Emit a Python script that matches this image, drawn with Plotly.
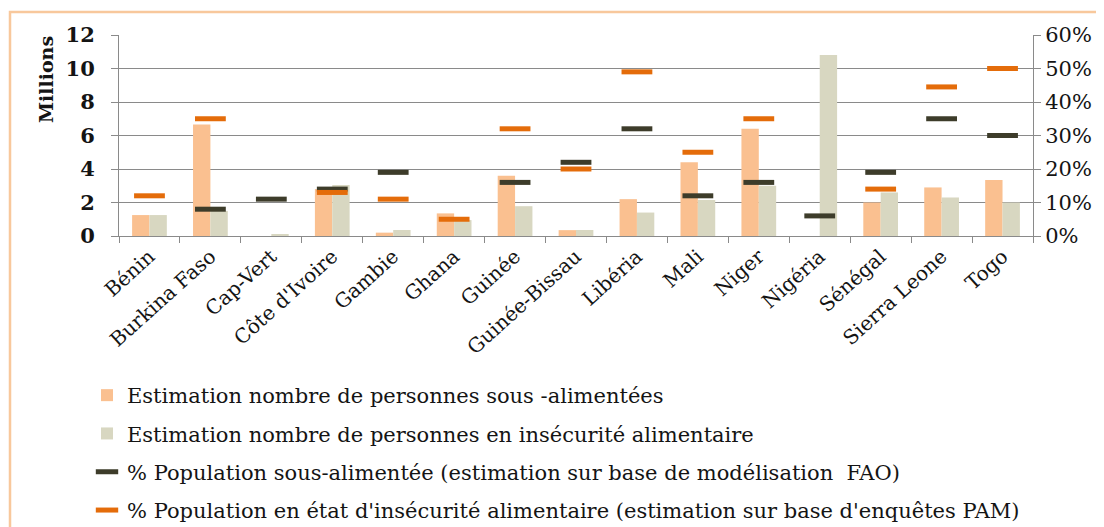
import plotly.graph_objects as go

countries = ["Bénin", "Burkina Faso", "Cap-Vert", "Côte d'Ivoire", "Gambie", "Ghana",
             "Guinée", "Guinée-Bissau", "Libéria", "Mali", "Niger", "Nigéria",
             "Sénégal", "Sierra Leone", "Togo"]
# millions
sous_alimentees = [1.25, 6.65, 0.0, 2.8, 0.2, 1.35, 3.6, 0.35, 2.2, 4.4, 6.4, 0.0, 2.0, 2.9, 3.35]
insecurite = [1.25, 1.5, 0.08, 3.05, 0.36, 0.95, 1.78, 0.36, 1.4, 2.15, 3.0, 10.8, 2.6, 2.3, 2.0]
# percent
pct_fao = [None, 8, 11, 14, 19, None, 16, 22, 32, 12, 16, 6, 19, 35, 30]
pct_pam = [12, 35, None, 13, 11, 5, 32, 20, 49, 25, 35, None, 14, 44.5, 50]

left_ticks = [0, 2, 4, 6, 8, 10, 12]
right_ticks = [0, 10, 20, 30, 40, 50, 60]
right_labels = ["0%", "10%", "20%", "30%", "40%", "50%", "60%"]

names = [
    "Estimation nombre de personnes sous -alimentées",
    "Estimation nombre de personnes en insécurité alimentaire",
    "% Population sous-alimentée (estimation sur base de modélisation  FAO)",
    "% Population en état d'insécurité alimentaire (estimation sur base d'enquêtes PAM)",
]

FONT = "DejaVu Serif"
GRID = "#8a8a8a"
TXT = "#141414"

fig = go.Figure()
fig.add_trace(go.Bar(x=countries, y=sous_alimentees, name=names[0],
                     marker=dict(color="#FAC090", line=dict(width=0)), legendgroup="a"))
fig.add_trace(go.Bar(x=countries, y=insecurite, name=names[1],
                     marker=dict(color="#D8D7C1", line=dict(width=0)), legendgroup="b"))
fig.add_trace(go.Scatter(x=countries, y=pct_fao, name=names[2], yaxis="y2", mode="markers",
                         marker=dict(symbol="line-ew", size=22,
                                     line=dict(width=5, color="#3D3C2A")),
                         legendgroup="c"))
fig.add_trace(go.Scatter(x=countries, y=pct_pam, name=names[3], yaxis="y2", mode="markers",
                         marker=dict(symbol="line-ew", size=22,
                                     line=dict(width=5, color="#E46C0A")),
                         legendgroup="d"))

# the page body adds an 8px offset; work in page coordinates and convert
OFF = 8
W, H = 1104, 527
plot_left, plot_right, plot_top, plot_bottom = 119, 1033, 35, 236
L = plot_left - OFF
T = plot_top - OFF
R = W - (plot_right - OFF)
B = H - (plot_bottom - OFF)
pw = plot_right - plot_left
ph = plot_bottom - plot_top

def px(x):
    return (x - plot_left) / pw

def py(y):
    return (plot_bottom - y) / ph

fig.update_layout(
    width=W, height=H,
    margin=dict(l=L, r=R, t=T, b=B, autoexpand=False),
    paper_bgcolor="white", plot_bgcolor="white",
    barmode="group", bargap=0.43, bargroupgap=0,
    font=dict(family=FONT, size=19, color=TXT),
    showlegend=True,
    legend=dict(x=px(87), y=py(375), xanchor="left", yanchor="top",
                orientation="v", traceorder="grouped", tracegroupgap=8,
                font=dict(family=FONT, size=21, color=TXT),
                bgcolor="rgba(0,0,0,0)"),
    xaxis=dict(type="category", categoryorder="array", categoryarray=countries,
               range=[-0.5, len(countries) - 0.5], autorange=False,
               showline=True, linecolor=GRID, linewidth=1,
               ticks="outside", tickson="boundaries", ticklen=6, tickcolor=GRID,
               tickangle=-42, tickfont=dict(family=FONT, size=20, color=TXT),
               showgrid=False),
    yaxis=dict(range=[0, 12], tickvals=left_ticks, showline=True, linecolor=GRID,
               ticks="outside", ticklen=7, tickcolor=GRID,
               showgrid=True, gridcolor=GRID, gridwidth=1, zeroline=False,
               tickfont=dict(family=FONT, size=21, color=TXT, weight="bold"),
               ticklabelstandoff=12),
    yaxis2=dict(range=[0, 60], tickvals=right_ticks, ticktext=right_labels,
                overlaying="y", side="right", showline=True, linecolor=GRID,
                ticks="outside", ticklen=7, tickcolor=GRID, showgrid=False,
                zeroline=False,
                tickfont=dict(family=FONT, size=21, color=TXT)),
    annotations=[dict(text="Millions", x=px(46), y=py(80), xref="paper", yref="paper",
                      xanchor="center", yanchor="middle",
                      textangle=-90, showarrow=False,
                      font=dict(family=FONT, size=19, color=TXT, weight="bold"))],
    shapes=[dict(type="rect", xref="paper", yref="paper",
                 x0=px(10), x1=px(1130), y0=py(545), y1=py(12),
                 line=dict(color="#F8C89C", width=2.5), fillcolor="rgba(0,0,0,0)",
                 layer="above")],
)

fig.write_html("out.html")
